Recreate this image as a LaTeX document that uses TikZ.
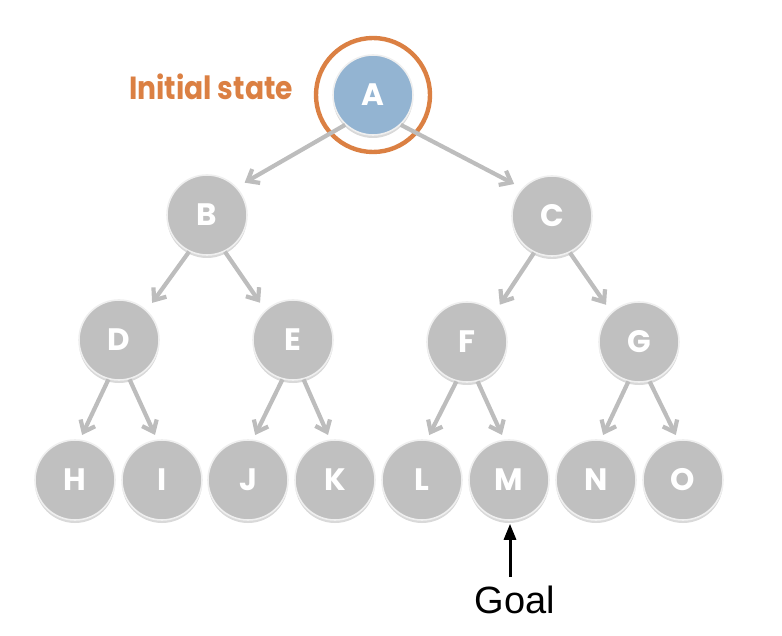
\documentclass[tikz,border=0pt]{standalone}
\usepackage{fontspec}
\setmainfont{Liberation Sans}
\newfontfamily\treefont{Poppins}
\newfontfamily\labelfont[FakeStretch=0.88]{Poppins}
\usetikzlibrary{arrows.meta,shadows}
\definecolor{nodegray}{HTML}{C0C0C0}
\definecolor{startblue}{HTML}{93B4D2}
\definecolor{startorange}{HTML}{DB8043}
\definecolor{edgegray}{HTML}{BDBDBD}
\begin{document}
\begin{tikzpicture}
[x=0.5pt, y=-0.5pt,
 state/.style={circle, fill=nodegray, draw=white!75!nodegray, line width=0.8pt, minimum size=40pt, inner sep=0pt, text=white, font=\treefont\bfseries\fontsize{15.5}{15.5}\selectfont, drop shadow={shadow xshift=0pt, shadow yshift=-1.5pt, opacity=0.3}},
 edge/.style={draw=edgegray, line width=2.1pt, -{Straight Barb[length=5pt, width=8pt]}, shorten >=4.5pt},
 leafedge/.style={edge, shorten >=2.5pt}]
\useasboundingbox (0,0) rectangle (782,636);
\node[state, fill=startblue] (A) at (373,95) {A};
\draw[startorange, line width=2.2pt] (A.center) circle[radius=57];
\node[anchor=east, text=startorange, font=\labelfont\bfseries\fontsize{16}{16}\selectfont] (init) at (300,87) {Initial state};
\node[state] (B) at (207,215) {B};
\node[state] (C) at (552,216) {C};
\node[state] (D) at (119,340) {D};
\node[state] (E) at (293,340) {E};
\node[state] (F) at (467,342) {F};
\node[state] (G) at (639,342) {G};
\node[state] (H) at (75,480) {H};
\node[state] (I) at (162,480) {I};
\node[state] (J) at (248,480) {J};
\node[state] (K) at (335,480) {K};
\node[state] (L) at (422,480) {L};
\node[state] (M) at (509,480) {M};
\node[state] (N) at (596,480) {N};
\node[state] (O) at (683,480) {O};
\draw[edge] (A.227) -- (B.43);
\draw[edge] (A.-47) -- (C.137);
\draw[edge] (B.244) -- (D.47);
\draw[edge] (B.-64) -- (E.133);
\draw[edge] (C.244) -- (F.47);
\draw[edge] (C.-64) -- (G.133);
\draw[leafedge] (D.-105) -- (H.83);
\draw[leafedge] (D.-75) -- (I.97);
\draw[leafedge] (E.-105) -- (J.83);
\draw[leafedge] (E.-75) -- (K.97);
\draw[leafedge] (F.-105) -- (L.83);
\draw[leafedge] (F.-75) -- (M.97);
\draw[leafedge] (G.-105) -- (N.83);
\draw[leafedge] (G.-75) -- (O.97);
\node[font=\fontsize{19}{19}\selectfont] (goal) at (515,600) {Goal};
\coordinate (goaltail) at (510,577);
\draw[line width=1.5pt, -{Triangle[length=8pt, width=6pt]}, shorten >=1.5pt] (goaltail) -- (goaltail |- M.south);
\end{tikzpicture}
\end{document}
